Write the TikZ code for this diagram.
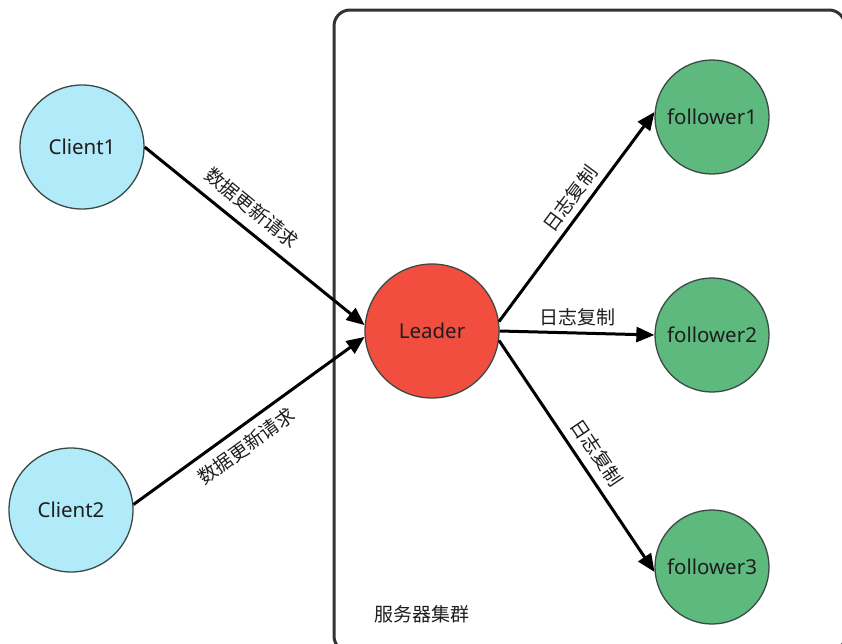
\documentclass[tikz,border=0pt]{standalone}
\usepackage{fontspec}
\setmainfont{Noto Sans}
\newfontfamily\cjkfont{Noto Sans CJK SC}
\usetikzlibrary{arrows.meta}

\definecolor{clientfill}{HTML}{B1EAF8}
\definecolor{leaderfill}{HTML}{F24E3F}
\definecolor{followerfill}{HTML}{5DB97E}
\definecolor{ringline}{HTML}{3C4A44}
\definecolor{inkdark}{HTML}{1E1E1E}
\definecolor{framegray}{HTML}{333333}

\tikzset{
  ball/.style={circle, draw=ringline, line width=1.3pt, text=inkdark,
    font=\fontsize{20.5}{24}\selectfont, inner sep=0pt},
  client/.style={ball, fill=clientfill, minimum size=124pt},
  leader/.style={ball, fill=leaderfill, minimum size=134pt},
  follower/.style={ball, fill=followerfill, minimum size=114pt},
  flow/.style={line width=3pt, draw=black, -{Triangle[length=18pt,width=15pt]}},
  elabel/.style={font=\cjkfont\fontsize{19}{22}\selectfont, text=inkdark, inner sep=6pt},
  cluster/.style={draw=framegray, line width=3pt, rounded corners=16pt}
}

\begin{document}
\begin{tikzpicture}[x=1pt,y=-1pt]
  \useasboundingbox (0,0) rectangle (842,643);
  \fill[white] (0,0) rectangle (842,643);

  % server cluster frame
  \draw[cluster] (334,10) rectangle (845,652);
  \node[elabel, anchor=west, inner sep=0pt] (clusterlabel) at (374,614) {服务器集群};

  % clients
  \node[client] (C1) at (82,147) {Client1};
  \node[client] (C2) at (71,510) {Client2};

  % leader and followers
  \node[leader] (L) at (432,331) {Leader};
  \node[follower] (F1) at (712,117) {follower1};
  \node[follower] (F2) at (712,335) {follower2};
  \node[follower] (F3) at (712,567) {follower3};

  % update requests
  \draw[flow] (C1.east) -- node[elabel, sloped, above, pos=0.43, inner sep=10pt] {数据更新请求} (L.175);
  \draw[flow] (C2.5) -- node[elabel, sloped, below, pos=0.44, inner sep=8.5pt] {数据更新请求} (L.185);

  % log replication
  \draw[flow] (L.8) -- node[elabel, sloped, above, pos=0.54, inner sep=6pt] {日志复制} (F1.175);
  \draw[flow] (L.0) -- node[elabel, above, inner sep=5pt] {日志复制} (F2.west);
  \draw[flow] (L.-8) -- node[elabel, sloped, above, pos=0.53, inner sep=8.5pt] {日志复制} (F3.185);
\end{tikzpicture}
\end{document}
